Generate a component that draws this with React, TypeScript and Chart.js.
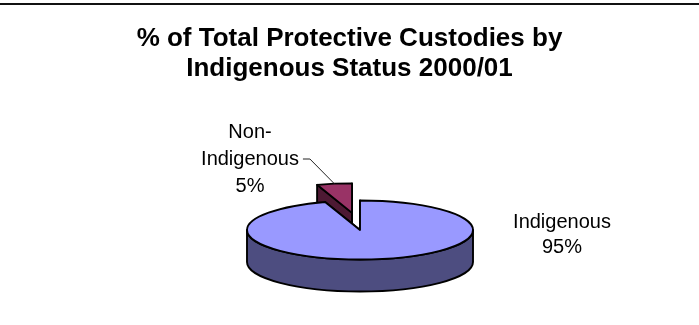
import React, { useEffect, useRef } from 'react';
import { Chart, registerables } from 'chart.js';

Chart.register(...registerables);

const TITLE_LINES = ['% of Total Protective Custodies by', 'Indigenous Status 2000/01'];
const CATEGORIES = ['Indigenous', 'Non-Indigenous'];
const LABEL_LINES = [['Indigenous'], ['Non-', 'Indigenous']];
const VALUES = [95, 5];
const TOP_COLORS = ['#9999FF', '#993366'];
const SIDE_COLORS = ['#4D4D80', '#4D1933'];
const EXPLODE = [0, 51];

const FONT = '"Liberation Sans", Arial, sans-serif';
const TILT = 0.261;
const EXPLODE_TILT = 0.34;
const DEPTH = 32;
// label anchors (center x, first baseline, line spacing)
const LABEL_POS = [
  { x: 562, y: 228, lh: 25, leader: false },
  { x: 250, y: 138, lh: 27, leader: true },
];

const pie3d = {
  id: 'pie3d',
  beforeDraw(chart: any) {
    const ctx = chart.ctx as CanvasRenderingContext2D;
    ctx.save();
    ctx.fillStyle = '#fff';
    ctx.fillRect(0, 0, chart.width, chart.height);
    ctx.fillStyle = '#111';
    ctx.fillRect(0, 3, chart.width, 2);
    ctx.fillStyle = '#000';
    ctx.font = `bold 26px ${FONT}`;
    ctx.textAlign = 'center';
    ctx.textBaseline = 'alphabetic';
    TITLE_LINES.forEach((t, i) => ctx.fillText(t, 349.5, 46 + i * 30));
    ctx.restore();
  },
  beforeDatasetsDraw(chart: any) {
    const ctx = chart.ctx as CanvasRenderingContext2D;
    const meta = chart.getDatasetMeta(0);
    const arcs = meta.data as any[];
    const geo = arcs.map((a, i) => {
      const s = a.startAngle, e = a.endAngle, m = (s + e) / 2;
      const r = a.outerRadius;
      return {
        i, s, e, m,
        cx: a.x + Math.cos(m) * EXPLODE[i],
        cy: a.y + Math.sin(m) * EXPLODE[i] * EXPLODE_TILT,
        rx: r, ry: r * TILT,
      };
    });
    const order = [...geo].sort((p, q) => Math.sin(p.m) - Math.sin(q.m));
    ctx.save();
    ctx.lineWidth = 1.9;
    ctx.lineJoin = 'round';
    ctx.strokeStyle = '#000';
    for (const g of order) {
      const { cx, cy, rx, ry, s, e, i } = g;
      const px = (a: number) => cx + rx * Math.cos(a);
      const py = (a: number) => cy + ry * Math.sin(a);
      // radial faces
      for (const a of [s, e]) {
        ctx.beginPath();
        ctx.moveTo(cx, cy);
        ctx.lineTo(px(a), py(a));
        ctx.lineTo(px(a), py(a) + DEPTH);
        ctx.lineTo(cx, cy + DEPTH);
        ctx.closePath();
        ctx.fillStyle = SIDE_COLORS[i];
        ctx.fill();
        ctx.stroke();
      }
      // outer curved side, front half only
      for (let k = -2; k <= 2; k++) {
        const lo = Math.max(s, 2 * Math.PI * k);
        const hi = Math.min(e, 2 * Math.PI * k + Math.PI);
        if (hi > lo) {
          ctx.beginPath();
          ctx.ellipse(cx, cy, rx, ry, 0, lo, hi, false);
          ctx.lineTo(px(hi), py(hi) + DEPTH);
          ctx.ellipse(cx, cy + DEPTH, rx, ry, 0, hi, lo, true);
          ctx.closePath();
          ctx.fillStyle = SIDE_COLORS[i];
          ctx.fill();
          ctx.stroke();
        }
      }
      // top face
      ctx.beginPath();
      ctx.moveTo(cx, cy);
      ctx.ellipse(cx, cy, rx, ry, 0, s, e, false);
      ctx.closePath();
      ctx.fillStyle = TOP_COLORS[i];
      ctx.fill();
      ctx.stroke();
    }

    // data labels
    const total = VALUES.reduce((p, v) => p + v, 0);
    ctx.font = `20px ${FONT}`;
    ctx.fillStyle = '#000';
    ctx.textAlign = 'center';
    ctx.textBaseline = 'alphabetic';
    geo.forEach((g) => {
      const pos = LABEL_POS[g.i];
      const lines = [...LABEL_LINES[g.i], `${Math.round((VALUES[g.i] / total) * 100)}%`];
      lines.forEach((t, j) => ctx.fillText(t, pos.x, pos.y + j * pos.lh));
      if (pos.leader) {
        const widest = Math.max(...lines.map((t) => ctx.measureText(t).width));
        const wi = lines.findIndex((t) => ctx.measureText(t).width === widest);
        const sx = pos.x + widest / 2 + 4;
        const sy = pos.y + wi * pos.lh - 6;
        const tx = g.cx + g.rx * Math.cos(g.m);
        const ty = g.cy + g.ry * Math.sin(g.m);
        ctx.beginPath();
        ctx.lineWidth = 1;
        ctx.strokeStyle = '#222';
        ctx.moveTo(sx, sy);
        ctx.lineTo(sx + 7, sy);
        ctx.lineTo(tx, ty);
        ctx.stroke();
      }
    });
    ctx.restore();
    return false;
  },
};

export default function App() {
  const ref = useRef<HTMLCanvasElement>(null);
  useEffect(() => {
    document.body.style.margin = '0';
    const chart = new Chart(ref.current as HTMLCanvasElement, {
      type: 'pie',
      data: {
        labels: CATEGORIES,
        datasets: [{ data: VALUES, backgroundColor: TOP_COLORS, radius: 113 } as any],
      },
      options: {
        responsive: false,
        animation: false,
        devicePixelRatio: 1,
        layout: { padding: { left: 21, right: 0, top: 135, bottom: 0 } },
        plugins: {
          legend: { display: false },
          tooltip: { enabled: false },
          title: { display: false },
        },
      },
      plugins: [pie3d as any],
    });
    return () => chart.destroy();
  }, []);
  return <canvas ref={ref} width={699} height={325} style={{ display: 'block' }} />;
}
